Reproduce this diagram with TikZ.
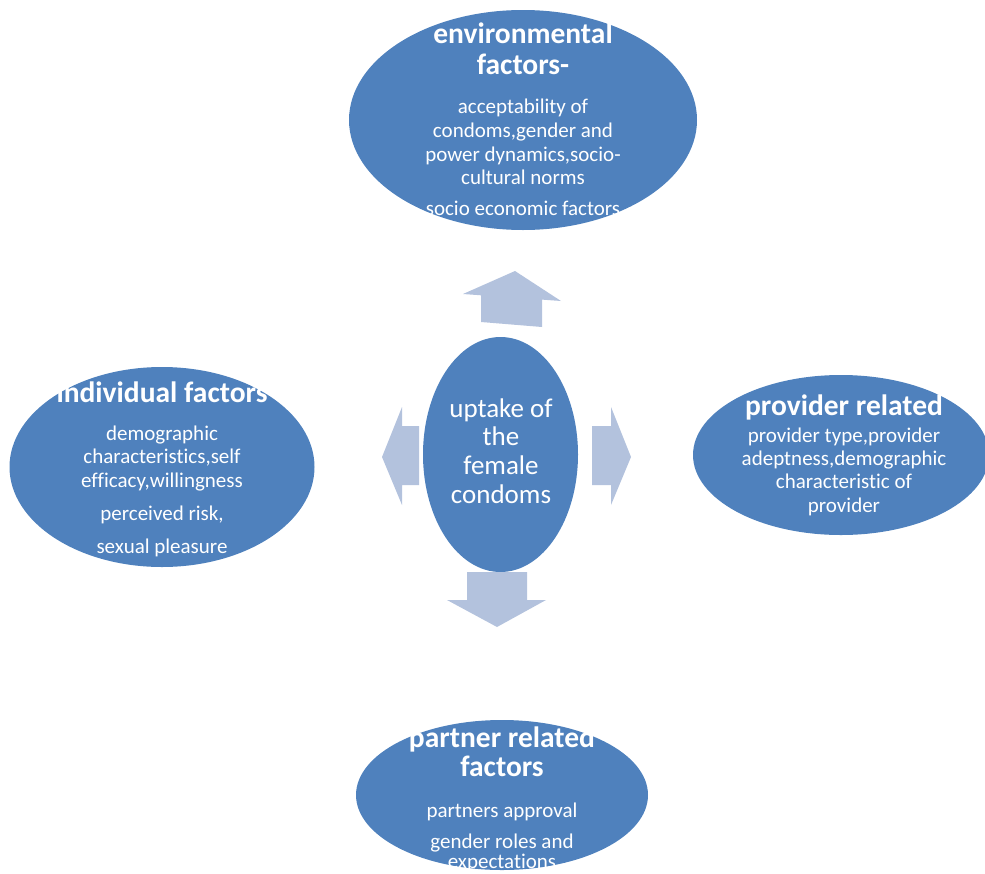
\documentclass[tikz,border=0pt]{standalone}
\usepackage{fontspec}
\setmainfont[Ligatures=NoCommon]{Carlito}
\usetikzlibrary{shapes.geometric}
\definecolor{ellblue}{HTML}{4F81BD}
\definecolor{arrblue}{HTML}{B3C2DD}
\begin{document}
\begin{tikzpicture}[x=1pt,y=-1pt,
  blob/.style={ellipse, fill=ellblue, inner sep=0pt},
  ttl/.style={anchor=base, text=white, inner sep=0pt, font=\fontsize{29.5}{34}\selectfont\bfseries},
  bod/.style={anchor=base, text=white, inner sep=0pt, font=\fontsize{21}{25}\selectfont},
  ctr/.style={anchor=base, text=white, inner sep=0pt, font=\fontsize{27}{32}\selectfont},
  fatarrow/.style={fill=arrblue}]
\useasboundingbox (0,0) rectangle (985,873);

% ellipses
\node[blob, minimum width=348pt, minimum height=220pt] (env) at (523,120) {};
\node[blob, minimum width=155pt, minimum height=235pt] (ctr) at (500.5,454.5) {};
\node[blob, minimum width=305pt, minimum height=200pt] (ind) at (162,467) {};
\node[blob, minimum width=296pt, minimum height=160pt] (prov) at (841,455) {};
\node[blob, minimum width=292pt, minimum height=150pt] (part) at (502,795) {};

% block arrows
\fill[fatarrow] (515,271) -- (561,301) -- (542,299.6) -- (542,327) -- (481,322) -- (481,295.3) -- (463,294) -- cycle;
\fill[fatarrow] (467,572) -- (527,572) -- (527,600) -- (546,600) -- (497,627) -- (447,600) -- (467,600) -- cycle;
\fill[fatarrow] (382,457) -- (402,407) -- (402,426) -- (419,426) -- (419,485) -- (402,485) -- (402,505) -- cycle;
\fill[fatarrow] (592,426) -- (611,426) -- (611,407) -- (631,457) -- (611,505) -- (611,485) -- (592,485) -- cycle;

% environmental
\node[ttl] (envt1) at (523,43) {environmental};
\node[ttl] (envt2) at (523,74) {factors-};
\node[bod] (envb1) at (523,113) {acceptability of};
\node[bod] (envb2) at (523,137) {condoms,gender and};
\node[bod] (envb3) at (523,161) {power dynamics,socio-};
\node[bod] (envb4) at (523,184) {cultural norms};
\node[bod] (envb5) at (523,215) {socio economic factors};

% centre
\node[ctr] (c1) at (501,417) {uptake of};
\node[ctr] (c2) at (501,445) {the};
\node[ctr] (c3) at (501,474) {female};
\node[ctr] (c4) at (501,503) {condoms};

% individual
\node[ttl] (indt) at (162,402) {individual factors};
\node[bod] (indb1) at (162,440) {demographic};
\node[bod] (indb2) at (162,463) {characteristics,self};
\node[bod] (indb3) at (162,487) {efficacy,willingness};
\node[bod] (indb4) at (162,520) {perceived risk,};
\node[bod] (indb5) at (162,553) {sexual pleasure};

% provider
\node[ttl] (provt) at (844,415) {provider related};
\node[bod] (provb1) at (844,442) {provider type,provider};
\node[bod] (provb2) at (844,465) {adeptness,demographic};
\node[bod] (provb3) at (844,488) {characteristic of};
\node[bod] (provb4) at (844,512) {provider};

% partner
\node[ttl] (partt1) at (502,747) {partner related};
\node[ttl] (partt2) at (502,776) {factors};
\node[bod] (partb1) at (502,817) {partners approval};
\node[bod] (partb2) at (502,848) {gender roles and};
\node[bod] (partb3) at (502,868) {expectations};
\end{tikzpicture}
\end{document}
